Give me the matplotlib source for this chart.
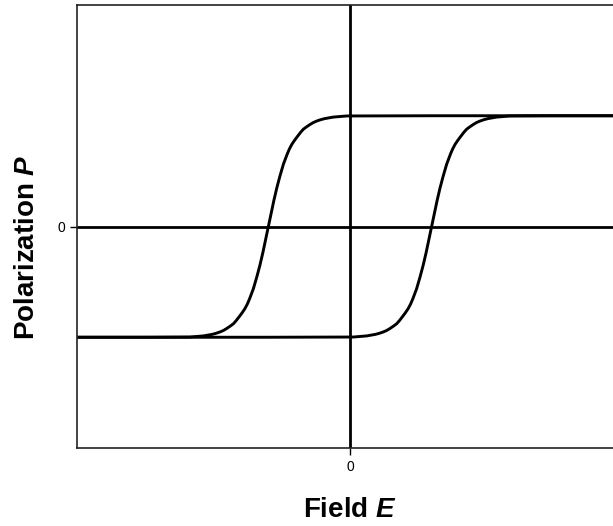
import matplotlib.pyplot as plt

plt.rcParams['font.family'] = ['Liberation Sans', 'DejaVu Sans']
plt.rcParams['mathtext.fontset'] = 'custom'
plt.rcParams['mathtext.it'] = 'Liberation Sans:italic:bold'
plt.rcParams['mathtext.rm'] = 'Liberation Sans:bold'

# descending branch (left side of the loop)
e_down = [-1.0, -0.733, -0.586, -0.537, -0.505, -0.490, -0.476, -0.463, -0.451,
          -0.439, -0.427, -0.417, -0.407, -0.396, -0.385, -0.376, -0.368,
          -0.354, -0.341, -0.330, -0.319, -0.311, -0.299,
          -0.287, -0.279, -0.268, -0.257, -0.244, -0.230, -0.222, -0.213,
          -0.202, -0.191, -0.181, -0.171, -0.159, -0.147, -0.135, -0.122,
          -0.108, -0.093, -0.061, -0.012, 0.3, 1.0]
p_down = [-0.500, -0.500, -0.499, -0.494, -0.487, -0.482, -0.476, -0.469, -0.460,
          -0.450, -0.439, -0.425, -0.409, -0.391, -0.371, -0.350, -0.327,
          -0.281, -0.226, -0.175, -0.117, -0.070, 0.0,
          0.070, 0.117, 0.175, 0.226, 0.281, 0.327, 0.350, 0.371,
          0.391, 0.409, 0.425, 0.439, 0.450, 0.460, 0.469, 0.476,
          0.482, 0.487, 0.494, 0.499, 0.500, 0.500]

# ascending branch (right side of the loop)
e_up = [1.0, 0.733, 0.586, 0.537, 0.505, 0.490, 0.476, 0.463, 0.451,
        0.439, 0.427, 0.417, 0.407, 0.396, 0.385, 0.376, 0.368,
        0.354, 0.341, 0.330, 0.319, 0.311, 0.299,
        0.287, 0.279, 0.268, 0.257, 0.244, 0.230, 0.222, 0.213,
        0.202, 0.191, 0.181, 0.171, 0.159, 0.147, 0.135, 0.122,
        0.108, 0.093, 0.061, 0.012, -0.3, -1.0]
p_up = [0.500, 0.500, 0.499, 0.494, 0.487, 0.482, 0.476, 0.469, 0.460,
        0.450, 0.439, 0.425, 0.409, 0.391, 0.371, 0.350, 0.327,
        0.281, 0.226, 0.175, 0.117, 0.070, 0.0,
        -0.070, -0.117, -0.175, -0.226, -0.281, -0.327, -0.350, -0.371,
        -0.391, -0.409, -0.425, -0.439, -0.450, -0.460, -0.469, -0.476,
        -0.482, -0.487, -0.494, -0.499, -0.500, -0.500]

fig = plt.figure(figsize=(6.13, 5.26), dpi=100)
ax = fig.add_axes([77 / 613, 1 - 448 / 526, 546 / 613, 443 / 526])

ax.axhline(0, color='black', lw=2)
ax.axvline(0, color='black', lw=2)
ax.plot(e_down, p_down, color='black', lw=2.1, solid_joinstyle='round')
ax.plot(e_up, p_up, color='black', lw=2.1, solid_joinstyle='round')

ax.set_xlim(-1, 1)
ax.set_ylim(-1, 1)
ax.set_xticks([0])
ax.set_yticks([0])
ax.tick_params(labelsize=10, length=5, width=1)
for s in ax.spines.values():
    s.set_linewidth(1.2)
    s.set_color('#222222')

ax.set_xlabel(r'Field $E$', fontsize=20, fontweight='bold')
ax.set_ylabel(r'Polarization $P$', fontsize=20, fontweight='bold')
ax.xaxis.set_label_coords(0.5, -0.111)
ax.yaxis.set_label_coords(-0.067, 0.454)

fig.savefig('out.png', dpi=100)
